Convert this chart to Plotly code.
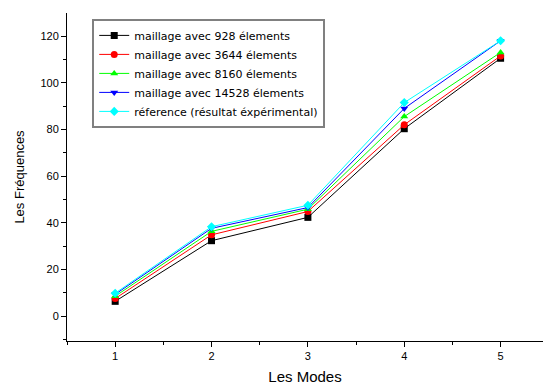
import plotly.graph_objects as go

modes = [1, 2, 3, 4, 5]
names = [
    "maillage avec 928 élements",
    "maillage avec 3644 élements",
    "maillage avec 8160 élements",
    "maillage avec 14528 élements",
    "réference (résultat éxpérimental)",
]
f928 = [6.3, 32.3, 42.3, 80.3, 110.5]
f3644 = [7.5, 34.8, 44.8, 82.0, 111.5]
f8160 = [8.5, 36.3, 45.8, 85.5, 113.0]
f14528 = [9.3, 37.6, 46.5, 89.0, 118.0]
fref = [9.8, 38.3, 47.5, 91.5, 118.0]

series = [f928, f3644, f8160, f14528, fref]
colors = ["#000000", "#FF0000", "#00FF00", "#0000FF", "#00FFFF"]
symbols = ["square", "circle", "triangle-up", "triangle-down", "diamond"]

fig = go.Figure()
for name, ys, c, s in zip(names, series, colors, symbols):
    fig.add_trace(go.Scatter(
        x=modes, y=ys, name=name, mode="lines+markers",
        line=dict(color=c, width=1),
        marker=dict(symbol=s, size=7, color=c, line=dict(width=0)),
    ))

fig.update_layout(
    width=543, height=385,
    margin=dict(l=67, r=0, t=13, b=44),
    paper_bgcolor="white", plot_bgcolor="white",
    font=dict(family="Arial, Liberation Sans, sans-serif", size=11, color="black"),
    showlegend=True,
    legend=dict(
        x=0.053, y=0.982, xanchor="left", yanchor="top",
        bordercolor="#808080", borderwidth=2, bgcolor="white",
        font=dict(size=11, family="DejaVu Sans"), tracegroupgap=0, itemwidth=30,
    ),
    xaxis=dict(
        range=[0.5, 5.44], tickvals=modes, showgrid=False, zeroline=False,
        showline=True, linecolor="black", linewidth=1,
        ticks="outside", ticklen=5, tickcolor="black",
        minor=dict(ticks="outside", ticklen=3, tickvals=[0.5, 1.5, 2.5, 3.5, 4.5], tickcolor="black"),
        title=dict(text="Les Modes", font=dict(size=15), standoff=10),
        tickfont=dict(size=11),
    ),
    yaxis=dict(
        range=[-10.7, 129.9], tickvals=[0, 20, 40, 60, 80, 100, 120],
        showgrid=False, zeroline=False,
        showline=True, linecolor="black", linewidth=1,
        ticks="outside", ticklen=5, tickcolor="black",
        minor=dict(ticks="outside", ticklen=3, dtick=10, tick0=0, tickcolor="black"),
        title=dict(text="Les Fréquences", font=dict(size=13), standoff=12),
        tickfont=dict(size=11),
    ),
)

fig.write_html("out.html")
